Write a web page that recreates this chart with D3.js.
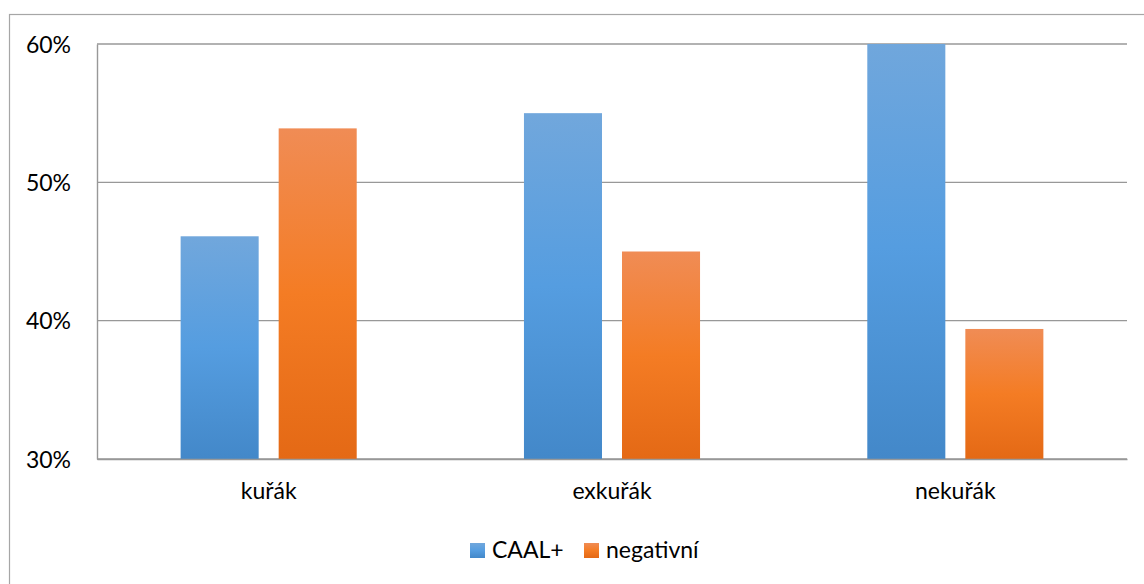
<!DOCTYPE html>
<html>
<head>
<meta charset="utf-8">
<script src="https://cdn.jsdelivr.net/npm/d3@7/dist/d3.min.js"></script>
<style>
  html, body { margin: 0; padding: 0; background: #fff; }
  svg { display: block; }
  text { font-family: Lato, "Open Sans", "Noto Sans", sans-serif; fill: #000; }
</style>
</head>
<body>
<svg id="chart" width="1144" height="584"></svg>
<script>
// Share of CAAL+ vs. negative results by smoking status
const categories = ["kuřák", "exkuřák", "nekuřák"];
const seriesNames = ["CAAL+", "negativní"];
const caalPlus = [46.1, 55.0, 60.6];
const negativni = [53.9, 45.0, 39.4];
const yTicks = [30, 40, 50, 60];

const seriesValues = [caalPlus, negativni];
const rows = categories.map((c, i) => ({
  category: c,
  values: seriesNames.map((s, j) => ({ series: s, value: seriesValues[j][i] }))
}));

const W = 1144, H = 584;
const margin = { left: 97, right: 17, top: 44, bottom: 125 };
const plotW = W - margin.left - margin.right;
const plotH = H - margin.top - margin.bottom;

const svg = d3.select("#chart");

// outer chart frame
svg.append("rect")
  .attr("x", 9.5).attr("y", 14.5)
  .attr("width", W).attr("height", H)
  .attr("fill", "none").attr("stroke", "#a6a6a6").attr("stroke-width", 1.2);

const defs = svg.append("defs");
const gradStops = {
  "CAAL+": ["#71a7dc", "#559de0", "#4388c9"],
  "negativní": ["#f08c55", "#f47c24", "#e46915"]
};
const color = d3.scaleOrdinal().domain(seriesNames).range(["grad0", "grad1"]);
seriesNames.forEach((s, i) => {
  const g = defs.append("linearGradient")
    .attr("id", "grad" + i)
    .attr("x1", 0).attr("y1", 0).attr("x2", 0).attr("y2", 1);
  gradStops[s].forEach((c, k) => {
    g.append("stop").attr("offset", (k / 2 * 100) + "%").attr("stop-color", c);
  });
});
defs.append("clipPath").attr("id", "plotClip")
  .append("rect").attr("x", 0).attr("y", 0).attr("width", plotW).attr("height", plotH);

const x0 = d3.scaleBand().domain(categories).range([0, plotW]).paddingInner(0).paddingOuter(0);
const x1 = d3.scaleBand().domain(seriesNames).range([0, x0.bandwidth()])
  .paddingInner(0.204).paddingOuter(0.853);
const y = d3.scaleLinear().domain([30, 60]).range([plotH, 0]);

const g = svg.append("g").attr("transform", `translate(${margin.left},${margin.top})`);

// horizontal gridlines
g.append("g")
  .selectAll("line")
  .data(yTicks)
  .join("line")
  .attr("x1", 0).attr("x2", plotW)
  .attr("y1", d => y(d)).attr("y2", d => y(d))
  .attr("stroke", "#989898").attr("stroke-width", 1.4);

// bars
const bars = g.append("g").attr("clip-path", "url(#plotClip)");
bars.selectAll("g")
  .data(rows)
  .join("g")
  .attr("transform", d => `translate(${x0(d.category)},0)`)
  .selectAll("rect")
  .data(d => d.values)
  .join("rect")
  .attr("x", d => x1(d.series))
  .attr("width", x1.bandwidth())
  .attr("y", d => y(d.value))
  .attr("height", d => plotH - y(d.value))
  .attr("fill", d => `url(#${color(d.series)})`);

// y axis
const yAxis = g.append("g")
  .call(d3.axisLeft(y).tickValues(yTicks).tickSize(0).tickPadding(26).tickFormat(d => d + "%"));
yAxis.select(".domain").attr("stroke", "#989898").attr("stroke-width", 1.4);
yAxis.selectAll("text").style("font-size", "23px").attr("dy", "0.35em");

// x axis
const xAxis = g.append("g")
  .attr("transform", `translate(0,${plotH})`)
  .call(d3.axisBottom(x0).tickSize(0).tickPadding(24));
xAxis.select(".domain").attr("stroke", "#989898").attr("stroke-width", 1.4);
xAxis.selectAll("text").style("font-size", "23px");

// legend
const legendItems = [
  { name: "CAAL+", x: 470, grad: "grad0" },
  { name: "negativní", x: 584, grad: "grad1" }
];
const legend = svg.append("g");
legendItems.forEach(it => {
  legend.append("rect")
    .attr("x", it.x).attr("y", 543).attr("width", 15).attr("height", 15)
    .attr("fill", `url(#${it.grad})`);
  legend.append("text")
    .attr("x", it.x + 22).attr("y", 558)
    .style("font-size", "23px")
    .text(it.name);
});
</script>
</body>
</html>
